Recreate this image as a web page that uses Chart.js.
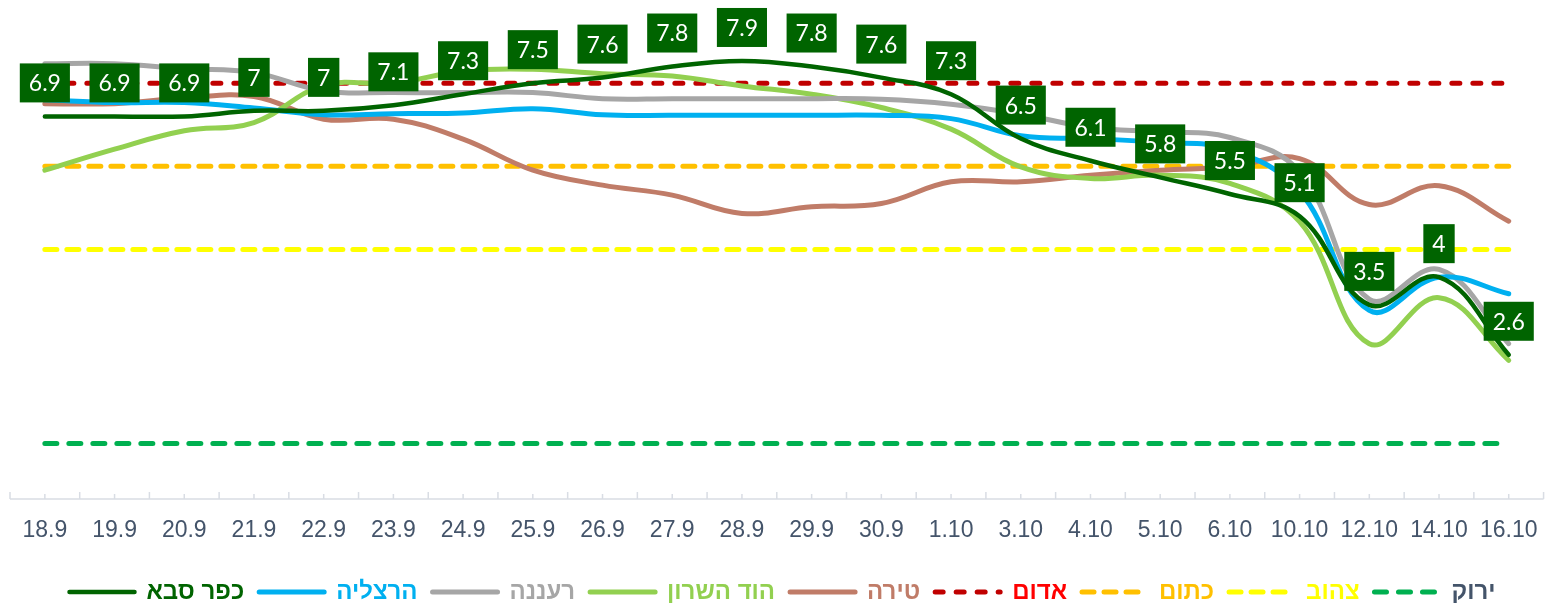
<!DOCTYPE html>
<html>
<head>
<meta charset="utf-8">
<script src="https://cdn.jsdelivr.net/npm/chart.js@4.4.0/dist/chart.umd.min.js"></script>
<style>
html, body { margin: 0; padding: 0; background: #fff; }
</style>
</head>
<body>
<canvas id="chart" width="1555" height="603"></canvas>
<script>
// dates on the x axis
const dates = ['18.9','19.9','20.9','21.9','22.9','23.9','24.9','25.9','26.9','27.9','28.9',
               '29.9','30.9','1.10','3.10','4.10','5.10','6.10','10.10','12.10','14.10','16.10'];

// city scores
const kfarSaba    = [6.9, 6.9, 6.9, 7, 7, 7.1, 7.3, 7.5, 7.6, 7.8, 7.9, 7.8, 7.6, 7.3, 6.5, 6.1, 5.8, 5.5, 5.1, 3.5, 4, 2.6];
const herzliya    = [7.2, 7.15, 7.15, 7.05, 6.93, 6.95, 6.96, 7.04, 6.93, 6.92, 6.92, 6.92, 6.92, 6.86, 6.55, 6.5, 6.43, 6.3, 5.55, 3.4, 4.0, 3.7];
const raanana     = [7.85, 7.85, 7.76, 7.69, 7.36, 7.33, 7.33, 7.33, 7.22, 7.22, 7.22, 7.22, 7.21, 7.12, 6.94, 6.7, 6.62, 6.52, 5.9, 3.6, 4.14, 2.8];
const hodHasharon = [5.93, 6.31, 6.64, 6.79, 7.46, 7.5, 7.72, 7.75, 7.67, 7.63, 7.45, 7.3, 7.06, 6.67, 5.99, 5.78, 5.84, 5.69, 5.0, 2.8, 3.63, 2.5];
const tira        = [7.13, 7.13, 7.23, 7.26, 6.85, 6.85, 6.49, 5.93, 5.66, 5.48, 5.15, 5.27, 5.33, 5.72, 5.72, 5.84, 5.93, 5.99, 6.14, 5.31, 5.65, 5.01];

// traffic light thresholds
const red    = dates.map(() => 7.5);
const orange = dates.map(() => 6);
const yellow = dates.map(() => 4.5);
const green  = dates.map(() => 1);

const legendColors = ['#006400','#00b0f0','#a6a6a6','#92d050','#c07c68','#ff0000','#ffc000','#ffff00','#44546a'];

function city(label, data, color, width){
    return {
        label: label, data: data,
        borderColor: color, backgroundColor: color,
        borderWidth: width, pointRadius: 0, tension: 0.4,
        borderCapStyle: 'round', fill: false
    };
}
function level(label, data, color, dash){
    return {
        label: label, data: data,
        borderColor: color, backgroundColor: color,
        borderWidth: 5, pointRadius: 0, tension: 0,
        borderDash: dash, borderCapStyle: 'round', fill: false
    };
}

// little tick marks inside the axis + the axis line
const axisMarks = {
    id: 'axisMarks',
    beforeDatasetsDraw(chart){
        const ctx = chart.ctx;
        const xs = chart.scales.x;
        const bottom = chart.chartArea.bottom;
        const half = (xs.getPixelForValue(1) - xs.getPixelForValue(0)) / 2;
        ctx.save();
        ctx.strokeStyle = '#d9dde4';
        ctx.lineWidth = 1.5;
        ctx.beginPath();
        ctx.moveTo(chart.chartArea.left, bottom);
        ctx.lineTo(chart.chartArea.right, bottom);
        for (let i = 0; i < dates.length; i++) {
            const c = xs.getPixelForValue(i);
            ctx.moveTo(c - half, bottom); ctx.lineTo(c - half, bottom - 7);
            ctx.moveTo(c, bottom); ctx.lineTo(c, bottom - 5);
        }
        ctx.moveTo(xs.getPixelForValue(dates.length - 1) + half, bottom);
        ctx.lineTo(xs.getPixelForValue(dates.length - 1) + half, bottom - 7);
        ctx.stroke();
        ctx.restore();
    }
};

// green boxes with the Kfar Saba values
const valueBoxes = {
    id: 'valueBoxes',
    afterDatasetsDraw(chart){
        const ctx = chart.ctx;
        const meta = chart.getDatasetMeta(0);
        ctx.save();
        ctx.font = '23px Lato';
        ctx.textAlign = 'center';
        ctx.textBaseline = 'middle';
        meta.data.forEach((pt, i) => {
            const txt = String(kfarSaba[i]);
            const w = ctx.measureText(txt).width + 18;
            const h = 39;
            const cy = pt.y - 33.5;
            ctx.fillStyle = '#006400';
            ctx.fillRect(pt.x - w / 2, cy - h / 2, w, h);
            ctx.fillStyle = '#ffffff';
            ctx.fillText(txt, pt.x, cy + 1);
        });
        ctx.restore();
    }
};

const ctx = document.getElementById('chart').getContext('2d');
const chart = new Chart(ctx, {
    type: 'line',
    data: {
        labels: dates,
        datasets: [
            city('כפר סבא', kfarSaba, '#006400', 4.5),
            city('הרצליה', herzliya, '#00b0f0', 5),
            city('רעננה', raanana, '#a6a6a6', 5),
            city('הוד השרון', hodHasharon, '#92d050', 5),
            city('טירה', tira, '#c07c68', 5),
            level('אדום', red, '#c00000', [8, 13]),
            level('כתום', orange, '#ffc000', [12, 10]),
            level('צהוב', yellow, '#ffff00', [12, 10]),
            level('ירוק', green, '#00b050', [12, 12])
        ]
    },
    options: {
        responsive: false,
        animation: false,
        devicePixelRatio: 1,
        layout: { padding: { left: 10, right: 0, top: 0, bottom: -11 } },
        scales: {
            x: {
                offset: true,
                grid: { display: false, drawTicks: false },
                border: { display: false },
                afterFit(scale){ scale.height += 3.5; },
                ticks: {
                    color: '#44546a',
                    padding: 17.5,
                    maxRotation: 0,
                    autoSkip: false,
                    font: { family: 'Liberation Sans', size: 23 }
                }
            },
            y: {
                display: false,
                min: 0,
                max: 9
            }
        },
        plugins: {
            tooltip: { enabled: false },
            legend: {
                position: 'bottom',
                labels: {
                    usePointStyle: true,
                    pointStyle: 'line',
                    pointStyleWidth: 65,
                    padding: 15,
                    font: { family: 'Liberation Sans', size: 24, weight: 'bold' },
                    generateLabels(chart){
                        const items = Chart.defaults.plugins.legend.labels.generateLabels(chart);
                        items.forEach((it, i) => {
                            const ds = chart.data.datasets[i];
                            it.fontColor = legendColors[i];
                            it.strokeStyle = ds.borderColor;
                            it.lineWidth = ds.borderWidth;
                            it.lineDash = ds.borderDash || [];
                            it.lineCap = 'round';
                        });
                        return items;
                    }
                }
            }
        }
    },
    plugins: [axisMarks, valueBoxes]
});
</script>
</body>
</html>
